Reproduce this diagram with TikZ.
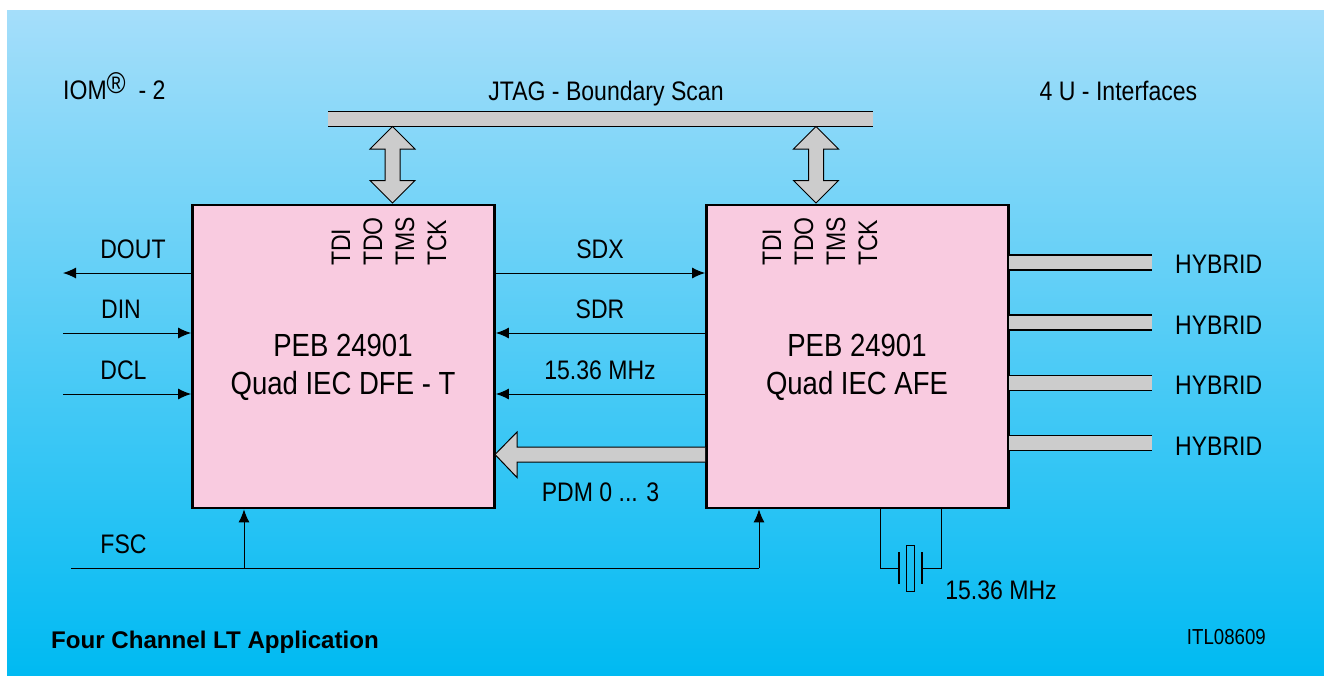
\documentclass[tikz,border=0pt]{standalone}
\usepackage{fontspec}
\setmainfont{Liberation Sans}[FakeStretch=0.86]
\newfontfamily\boldlab{Liberation Sans}[Scale=1]
\usetikzlibrary{arrows.meta}
\definecolor{bgtop}{RGB}{165,222,250}
\definecolor{bgbot}{RGB}{0,186,242}
\definecolor{chip}{RGB}{249,203,224}
\definecolor{busgray}{RGB}{204,204,204}
\tikzset{
  x=1pt,y=-1pt,
  chipbox/.style={draw=black,line width=2.8pt,fill=chip,minimum width=302pt,minimum height=303pt,inner sep=0pt},
  lab/.style={inner sep=0pt,font=\fontsize{26.8}{30}\selectfont,text=black},
  biglab/.style={inner sep=0pt,align=center,font=\fontsize{32}{38}\selectfont,text=black},
  pin/.style={lab,rotate=90,anchor=west},
  sig/.style={draw=black,line width=1pt,-{Latex[length=13pt,width=11pt]}},
  wire/.style={draw=black,line width=1pt},
  bus/.style={draw=black,line width=1pt,fill=busgray},
}
\begin{document}
\begin{tikzpicture}
\useasboundingbox (0,0) rectangle (1324,675);
\shade[top color=bgtop,bottom color=bgbot] (7,10) rectangle (1324,675);
% chips
\node[chipbox] (dfe) at (343.5,356.5) {};
\node[chipbox] (afe) at (857.5,356.5) {};
\node[biglab] (dfet) at (343,367.5) {PEB 24901\\Quad IEC DFE - T};
\node[biglab] (afet) at (857,367.5) {PEB 24901\\Quad IEC AFE};
% pins
\node[pin] (p1) at (341,266) {TDI};
\node[pin] (p2) at (373,266) {TDO};
\node[pin] (p3) at (405,266) {TMS};
\node[pin] (p4) at (437,266) {TCK};
\node[pin] (p5) at (772,266) {TDI};
\node[pin] (p6) at (804,266) {TDO};
\node[pin] (p7) at (836,266) {TMS};
\node[pin] (p8) at (868,266) {TCK};
% JTAG bus
\node[draw=none,fill=busgray,minimum width=545pt,minimum height=16pt,inner sep=0pt] (jtag) at (600.5,119) {};
\draw[line width=1pt] (328,111) -- (873,111) (328,126.5) -- (873,126.5);
% double arrows
\draw[bus,line join=miter] (392.5,126.5) -- (415,149) -- (400,149) -- (400,180.5) -- (415,180.5) -- (392.5,203) -- (370,180.5) -- (385,180.5) -- (385,149) -- (370,149) -- cycle;
\draw[bus,line join=miter] (816,126.5) -- (838.5,149) -- (823.5,149) -- (823.5,180.5) -- (838.5,180.5) -- (816,203) -- (793.5,180.5) -- (808.5,180.5) -- (808.5,149) -- (793.5,149) -- cycle;
% coordinates for free ends
\coordinate (dout) at (63,273);
\coordinate (din) at (63,333);
\coordinate (dcl) at (63,394);
\coordinate (fsc) at (71,568);
\coordinate (fj) at (244,568);
\coordinate (fk) at (759,568);
% left signals
\draw[sig] (dfe.west |- dout) -- (dout);
\draw[sig] (din) -- (dfe.west |- din);
\draw[sig] (dcl) -- (dfe.west |- dcl);
\draw[wire] (fsc) -- (fk);
\draw[sig] (fj) -- (dfe.south -| fj);
\draw[sig] (fk) -- (afe.south -| fk);
% between chips
\draw[sig] (dfe.east |- 0,273) -- (afe.west |- 0,273);
\draw[sig] (afe.west |- 0,333) -- (dfe.east |- 0,333);
\draw[sig] (afe.west |- 0,394) -- (dfe.east |- 0,394);
\draw[bus,line join=miter] (705,447) -- (517,447) -- (517,432) -- (495,454.5) -- (517,477.5) -- (517,462) -- (705,462);
% hybrid buses
\foreach \y/\n in {262.5/a,322.5/b,383/c,443/d}{
  \node[fill=busgray,minimum width=143pt,minimum height=15pt,inner sep=0pt] (h\n) at (1080.5,\y) {};
  \draw[line width=1.2pt] (1009,\y-7.5) -- (1152,\y-7.5) (1009,\y+7.5) -- (1152,\y+7.5);
}
\node[lab,anchor=west] (ha) at (1175,264.5) {HYBRID};
\node[lab,anchor=west] (hb) at (1175,325) {HYBRID};
\node[lab,anchor=west] (hc) at (1175,385) {HYBRID};
\node[lab,anchor=west] (hd) at (1175,446) {HYBRID};
% crystal
\coordinate (xl) at (880,508);
\coordinate (xr) at (941,508);
\draw[wire] (xl) -- (880,568) -- (898,568);
\draw[wire] (xr) -- (941,568) -- (923,568);
\draw[line width=2pt] (899,552) -- (899,584) (922,552) -- (922,584);
\draw[line width=1pt] (906.5,545) rectangle (914,591);
% labels
\node[lab,anchor=base west] (l1) at (63,99.5) {IOM\raisebox{6pt}{\fontsize{30}{30}\selectfont ®}\ \ - 2};
\node[lab] (l2) at (606,94) {JTAG - Boundary Scan};
\node[lab] (l3) at (1118.5,91) {4 U - Interfaces};
\node[lab] (l4) at (133,249.5) {DOUT};
\node[lab] (l5) at (121,309.5) {DIN};
\node[lab] (l6) at (123.5,370.5) {DCL};
\node[lab] (l7) at (123.5,544.5) {FSC};
\node[lab] (l8) at (600,249.5) {SDX};
\node[lab] (l9) at (600,309.5) {SDR};
\node[lab] (l10) at (600,370.5) {15.36 MHz};
\node[lab] (l11) at (600.5,492) {PDM 0 ... 3};
\node[lab] (l12) at (1001,590) {15.36 MHz};
\node[inner sep=0pt,anchor=west,font=\boldlab\bfseries\fontsize{24.1}{28}\selectfont] (l13) at (51,642) {Four Channel LT Application};
\node[inner sep=0pt,anchor=east,font=\fontsize{21.7}{24}\selectfont] (l14) at (1266,637) {ITL08609};
\end{tikzpicture}
\end{document}
